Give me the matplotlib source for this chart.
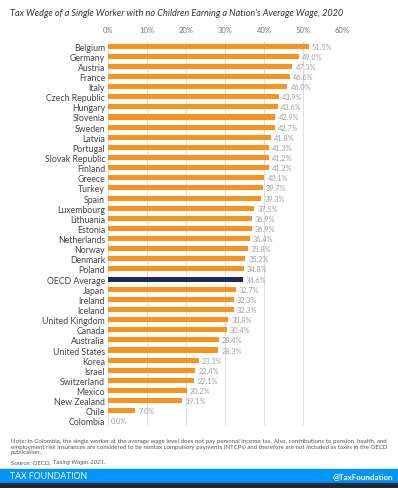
import matplotlib
matplotlib.use("Agg")
import matplotlib.pyplot as plt
from matplotlib.patches import Rectangle

plt.rcParams['font.family'] = ['Lato', 'DejaVu Sans']

countries = ["Belgium", "Germany", "Austria", "France", "Italy", "Czech Republic", "Hungary",
             "Slovenia", "Sweden", "Latvia", "Portugal", "Slovak Republic", "Finland", "Greece",
             "Turkey", "Spain", "Luxembourg", "Lithuania", "Estonia", "Netherlands", "Norway",
             "Denmark", "Poland", "OECD Average", "Japan", "Ireland", "Iceland", "United Kingdom",
             "Canada", "Australia", "United States", "Korea", "Israel", "Switzerland", "Mexico",
             "New Zealand", "Chile", "Colombia"]
values = [51.5, 49.0, 47.3, 46.6, 46.0, 43.9, 43.6, 42.9, 42.7, 41.8, 41.3, 41.2, 41.2, 40.1,
          39.7, 39.3, 37.5, 36.9, 36.9, 36.4, 35.8, 35.2, 34.8, 34.6, 32.7, 32.3, 32.3, 30.8,
          30.4, 28.4, 28.3, 23.3, 22.4, 22.1, 20.2, 19.1, 7.0, 0.0]
xticks = [0, 10, 20, 30, 40, 50, 60]
xticklabels = ["0%", "10%", "20%", "30%", "40%", "50%", "60%"]

W, H = 398, 489
fig = plt.figure(figsize=(W / 100, H / 100), dpi=100)
fig.patch.set_facecolor("white")

ax = fig.add_axes([108 / W, 1 - 427 / H, (342 - 108) / W, (427 - 42) / H])
ypos = list(range(len(countries)))
colors = ["#1B2A5A" if c == "OECD Average" else "#F7931E" for c in countries]
ax.barh(ypos, values, height=0.5, color=colors, zorder=3)
for y, v in zip(ypos, values):
    ax.text(v + 0.8, y, f"{v:.1f}%", va="center", ha="left", fontsize=5.3, color="#A0A0A0", zorder=4)

ax.set_ylim(len(countries) - 0.5, -0.5)
ax.set_xlim(0, 60)
ax.set_yticks(ypos)
ax.set_yticklabels(countries, fontsize=6.3, color="#444444")
ax.set_xticks(xticks)
ax.set_xticklabels(xticklabels, fontsize=5.5, color="#777777")
ax.xaxis.tick_top()
ax.tick_params(axis="both", length=0, pad=2)
ax.tick_params(axis="x", pad=6)
ax.grid(axis="x", color="#DDDDDD", linewidth=0.7, zorder=0)
for s in ax.spines.values():
    s.set_visible(False)

fig.text(10 / W, 1 - 13 / H, "Tax Wedge of a Single Worker with no Children Earning a Nation's Average Wage, 2020",
         fontsize=6.6, style="italic", color="#333333", va="center", ha="left")

note = ("Note: In Colombia, the single worker at the average wage level does not pay personal income tax. Also, contributions to pension, health, and\n"
        "employment risk insurances are considered to be nontax compulsory payments (NTCPs) and therefore are not included as taxes in the OECD\n"
        "publication.")
fig.text(11 / W, 1 - 439 / H, note, fontsize=4.45, color="#555555", va="top", ha="left", linespacing=1.05)
src = fig.text(11 / W, 1 - 463 / H, "Source: OECD,", fontsize=4.45, color="#555555", va="center", ha="left")
fig.canvas.draw()
bb = src.get_window_extent(renderer=fig.canvas.get_renderer())
fig.text((bb.x1 + 2) / W, 1 - 463 / H, "Taxing Wages 2021.", fontsize=4.45, color="#555555",
         va="center", ha="left", style="italic")

fig.add_artist(Rectangle((0, 1 - 484 / H), 1, 14 / H, transform=fig.transFigure, color="#0094FF", zorder=5))
fig.add_artist(Rectangle((0, 0), 1, 5 / H, transform=fig.transFigure, color="#1E2A30", zorder=5))
fig.text(10 / W, 1 - 477 / H, "TAX FOUNDATION", fontsize=6.3, color="white", va="center", ha="left", zorder=6)
fig.text(393 / W, 1 - 477 / H, "@TaxFoundation", fontsize=5.8, color="white", va="center", ha="right",
         weight="bold", zorder=6)

fig.savefig("out.png", dpi=100)
